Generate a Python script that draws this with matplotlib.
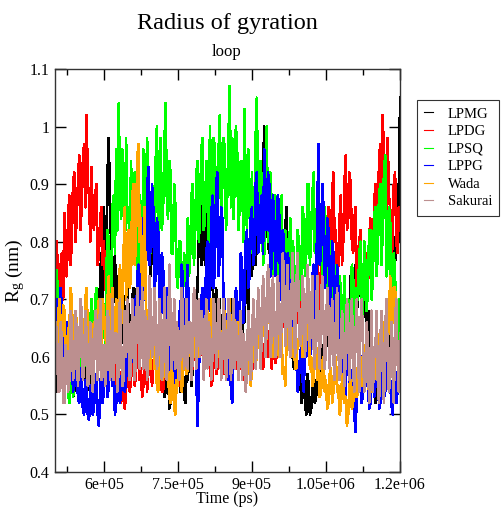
import numpy as np
import matplotlib
matplotlib.use("Agg")
import matplotlib.pyplot as plt

##### data: Rg (nm) of the loop, one value every 2500 ps from 5e5 to 1.2e6 ps
t_start = 500000
t_step = 2500

LPMG = [0.58, 0.54, 0.62, 0.59, 0.55, 0.63, 0.60, 0.55, 0.57, 0.61, 0.63, 0.58, 0.56, 0.62, 0.60, 0.53, 0.54, 0.60, 0.58, 0.64,
        0.62, 0.57, 0.56, 0.61, 0.60, 0.55, 0.53, 0.59, 0.58, 0.52, 0.55, 0.64, 0.62, 0.66, 0.70, 0.62, 0.66, 0.74, 0.78, 0.70,
        0.86, 0.80, 0.74, 0.92, 0.98, 0.84, 0.80, 0.68, 0.72, 0.78, 0.66, 0.70, 0.74, 0.66, 0.62, 0.72, 0.70, 0.60, 0.64, 0.72,
        0.68, 0.64, 0.62, 0.70, 0.72, 0.64, 0.66, 0.74, 0.78, 0.68, 0.70, 0.80, 0.84, 0.72, 0.76, 0.90, 0.88, 0.78, 0.74, 0.82,
        0.80, 0.72, 0.68, 0.60, 0.62, 0.58, 0.56, 0.62, 0.60, 0.53, 0.54, 0.59, 0.58, 0.51, 0.52, 0.58, 0.57, 0.53, 0.55, 0.61,
        0.60, 0.56, 0.54, 0.60, 0.58, 0.53, 0.52, 0.57, 0.56, 0.60, 0.62, 0.55, 0.58, 0.64, 0.66, 0.70, 0.72, 0.84, 0.80, 0.76,
        0.88, 0.80, 0.76, 0.86, 0.84, 0.74, 0.70, 0.80, 0.76, 0.66, 0.68, 0.72, 0.62, 0.66, 0.70, 0.60, 0.64, 0.68, 0.60, 0.64,
        0.66, 0.60, 0.62, 0.68, 0.70, 0.62, 0.64, 0.58, 0.60, 0.66, 0.68, 0.62, 0.62, 0.70, 0.66, 0.76, 0.72, 0.68, 0.78, 0.84,
        0.74, 0.80, 0.86, 0.76, 0.80, 0.90, 0.94, 0.82, 0.84, 0.92, 1.00, 0.90, 0.86, 0.80, 0.78, 0.88, 0.82, 0.76, 0.74, 0.84,
        0.80, 0.76, 0.72, 0.80, 0.84, 0.74, 0.76, 0.82, 0.86, 0.78, 0.72, 0.64, 0.66, 0.60, 0.58, 0.64, 0.62, 0.54, 0.55, 0.58,
        0.52, 0.56, 0.58, 0.52, 0.50, 0.57, 0.55, 0.50, 0.51, 0.55, 0.57, 0.52, 0.53, 0.58, 0.60, 0.54, 0.56, 0.61, 0.62, 0.58,
        0.66, 0.62, 0.70, 0.66, 0.64, 0.68, 0.72, 0.64, 0.68, 0.72, 0.62, 0.68, 0.66, 0.62, 0.70, 0.66, 0.64, 0.70, 0.68, 0.64,
        0.74, 0.70, 0.68, 0.72, 0.76, 0.68, 0.70, 0.75, 0.72, 0.68, 0.66, 0.72, 0.70, 0.66, 0.64, 0.68, 0.60, 0.64, 0.56, 0.60,
        0.52, 0.56, 0.58, 0.53, 0.55, 0.60, 0.62, 0.57, 0.58, 0.64, 0.66, 0.62, 0.72, 0.68, 0.80, 0.72, 0.76, 0.84, 0.90, 0.80, 1.05]

LPDG = [0.72, 0.78, 0.80, 0.66, 0.68, 0.76, 0.78, 0.70, 0.85, 0.76, 0.74, 0.84, 0.88, 0.76, 0.80, 0.90, 0.92, 0.80, 0.84, 0.90,
        0.95, 0.82, 0.86, 0.94, 0.97, 0.86, 1.02, 0.90, 0.88, 0.80, 0.93, 0.84, 0.82, 0.88, 0.90, 0.76, 0.78, 0.84, 0.86, 0.76,
        0.80, 0.74, 0.70, 0.78, 0.76, 0.66, 0.62, 0.70, 0.66, 0.58, 0.55, 0.62, 0.60, 0.54, 0.52, 0.58, 0.58, 0.51, 0.54, 0.62,
        0.60, 0.54, 0.56, 0.60, 0.62, 0.55, 0.57, 0.62, 0.64, 0.56, 0.58, 0.53, 0.55, 0.60, 0.61, 0.54, 0.57, 0.62, 0.60, 0.55,
        0.58, 0.61, 0.63, 0.57, 0.56, 0.62, 0.60, 0.54, 0.54, 0.58, 0.59, 0.64, 0.62, 0.56, 0.57, 0.62, 0.60, 0.54, 0.55, 0.60,
        0.58, 0.55, 0.62, 0.58, 0.57, 0.61, 0.64, 0.59, 0.60, 0.64, 0.66, 0.60, 0.58, 0.63, 0.62, 0.57, 0.56, 0.61, 0.60, 0.66,
        0.63, 0.59, 0.58, 0.62, 0.65, 0.60, 0.60, 0.55, 0.56, 0.62, 0.61, 0.57, 0.58, 0.63, 0.64, 0.58, 0.60, 0.64, 0.57, 0.61,
        0.62, 0.58, 0.59, 0.64, 0.66, 0.60, 0.61, 0.65, 0.58, 0.62, 0.63, 0.58, 0.60, 0.64, 0.56, 0.60, 0.62, 0.57, 0.58, 0.63,
        0.60, 0.58, 0.65, 0.62, 0.61, 0.66, 0.68, 0.62, 0.63, 0.58, 0.60, 0.65, 0.66, 0.60, 0.62, 0.67, 0.58, 0.62, 0.64, 0.59,
        0.60, 0.64, 0.66, 0.60, 0.62, 0.68, 0.70, 0.63, 0.64, 0.70, 0.68, 0.62, 0.62, 0.68, 0.66, 0.62, 0.72, 0.66, 0.66, 0.73,
        0.70, 0.65, 0.64, 0.70, 0.68, 0.63, 0.62, 0.69, 0.67, 0.74, 0.72, 0.66, 0.66, 0.76, 0.74, 0.68, 0.68, 0.84, 0.80, 0.72,
        0.74, 0.82, 0.86, 0.76, 0.78, 0.88, 0.92, 0.80, 0.82, 0.74, 0.76, 0.84, 0.88, 0.76, 0.80, 0.90, 0.95, 0.82, 0.84, 0.92,
        0.90, 0.80, 0.78, 0.84, 0.86, 0.72, 0.74, 0.80, 0.82, 0.68, 0.70, 0.76, 0.78, 0.68, 0.72, 0.80, 0.84, 0.74, 0.76, 0.86,
        0.90, 0.84, 0.82, 0.94, 0.97, 0.88, 1.02, 0.94, 0.92, 0.84, 0.98, 0.88, 0.86, 0.76, 0.80, 0.90, 0.92, 0.80, 0.78, 0.86, 0.82]

LPSQ = [0.66, 0.72, 0.75, 0.64, 0.60, 0.68, 0.70, 0.58, 0.55, 0.61, 0.62, 0.54, 0.52, 0.57, 0.58, 0.53, 0.55, 0.60, 0.60, 0.56,
        0.57, 0.61, 0.62, 0.56, 0.58, 0.64, 0.65, 0.58, 0.60, 0.66, 0.70, 0.62, 0.64, 0.70, 0.72, 0.64, 0.66, 0.58, 0.62, 0.66,
        0.68, 0.62, 0.74, 0.82, 0.80, 0.70, 0.72, 0.86, 0.88, 0.78, 0.96, 0.82, 1.04, 0.90, 0.84, 0.96, 0.90, 0.76, 0.98, 0.84,
        0.86, 0.74, 0.94, 0.84, 0.80, 0.92, 0.90, 0.74, 0.76, 0.88, 0.86, 0.72, 0.96, 0.84, 0.82, 0.98, 0.92, 0.80, 0.78, 0.90,
        0.88, 0.76, 0.94, 1.00, 0.80, 0.88, 0.98, 0.82, 0.86, 0.96, 1.04, 0.88, 0.84, 0.94, 0.92, 0.78, 0.78, 0.90, 0.86, 0.74,
        0.72, 0.80, 0.80, 0.68, 0.70, 0.78, 0.76, 0.70, 0.84, 0.74, 0.78, 0.88, 0.90, 0.76, 0.82, 0.92, 0.94, 0.80, 0.86, 0.96,
        0.98, 0.82, 0.84, 0.94, 0.92, 0.80, 1.00, 0.86, 0.88, 0.98, 0.96, 0.82, 0.86, 0.96, 1.02, 0.84, 0.90, 0.98, 0.96, 0.82,
        0.88, 0.98, 1.07, 0.86, 0.98, 0.84, 0.90, 1.00, 0.96, 0.82, 0.86, 0.94, 0.94, 0.80, 1.03, 0.88, 0.82, 0.96, 0.88, 0.78,
        0.92, 0.80, 0.84, 0.98, 1.05, 0.82, 0.80, 0.94, 0.90, 0.76, 0.78, 0.92, 1.00, 0.80, 0.82, 0.92, 0.86, 0.74, 0.76, 0.88,
        0.84, 0.72, 0.74, 0.86, 0.88, 0.70, 0.72, 0.82, 0.80, 0.70, 0.76, 0.84, 0.70, 0.80, 0.78, 0.68, 0.72, 0.82, 0.80, 0.70,
        0.74, 0.86, 0.84, 0.74, 0.78, 0.90, 0.90, 0.76, 0.82, 0.88, 0.92, 0.78, 0.80, 0.88, 0.93, 0.76, 0.84, 0.72, 0.76, 0.86,
        0.82, 0.70, 0.72, 0.80, 0.78, 0.64, 0.66, 0.76, 0.74, 0.62, 0.64, 0.74, 0.72, 0.64, 0.68, 0.74, 0.62, 0.70, 0.70, 0.64,
        0.66, 0.76, 0.74, 0.62, 0.62, 0.72, 0.70, 0.78, 0.80, 0.66, 0.68, 0.80, 0.76, 0.68, 0.72, 0.82, 0.82, 0.70, 0.74, 0.84,
        0.86, 0.74, 0.78, 0.88, 0.90, 0.76, 0.82, 0.92, 0.95, 0.74, 0.76, 0.86, 0.84, 0.66, 0.70, 0.78, 0.74, 0.64, 0.66, 0.70, 0.62]

LPPG = [0.64, 0.60, 0.70, 0.66, 0.62, 0.72, 0.68, 0.60, 0.60, 0.66, 0.66, 0.58, 0.58, 0.64, 0.62, 0.54, 0.55, 0.60, 0.60, 0.53,
        0.52, 0.58, 0.57, 0.51, 0.50, 0.56, 0.55, 0.50, 0.49, 0.55, 0.54, 0.50, 0.51, 0.57, 0.56, 0.50, 0.48, 0.54, 0.58, 0.52,
        0.54, 0.59, 0.60, 0.53, 0.55, 0.60, 0.62, 0.55, 0.57, 0.50, 0.52, 0.58, 0.58, 0.52, 0.54, 0.59, 0.60, 0.54, 0.56, 0.62,
        0.64, 0.56, 0.58, 0.66, 0.70, 0.60, 0.62, 0.74, 0.76, 0.66, 0.68, 0.82, 0.84, 0.70, 0.72, 0.88, 0.93, 0.76, 0.80, 0.90,
        0.86, 0.72, 0.74, 0.84, 0.82, 0.68, 0.66, 0.78, 0.76, 0.62, 0.62, 0.72, 0.70, 0.56, 0.58, 0.66, 0.64, 0.52, 0.54, 0.62,
        0.58, 0.68, 0.66, 0.76, 0.74, 0.60, 0.62, 0.72, 0.76, 0.64, 0.66, 0.58, 0.60, 0.72, 0.70, 0.56, 0.48, 0.58, 0.62, 0.70,
        0.72, 0.64, 0.66, 0.78, 0.80, 0.68, 0.70, 0.84, 0.88, 0.72, 0.76, 0.90, 0.92, 0.74, 0.78, 0.86, 0.84, 0.68, 0.70, 0.62,
        0.56, 0.66, 0.64, 0.54, 0.52, 0.60, 0.62, 0.72, 0.70, 0.62, 0.66, 0.78, 0.76, 0.66, 0.70, 0.80, 0.82, 0.72, 0.74, 0.84,
        0.86, 0.76, 0.78, 0.90, 0.92, 0.78, 0.80, 0.86, 0.88, 0.78, 0.96, 0.84, 0.82, 0.92, 0.90, 0.74, 0.76, 0.88, 0.84, 0.74,
        0.78, 0.88, 0.86, 0.70, 0.72, 0.82, 0.80, 0.66, 0.68, 0.78, 0.76, 0.62, 0.64, 0.72, 0.70, 0.58, 0.60, 0.54, 0.56, 0.60,
        0.62, 0.56, 0.54, 0.62, 0.60, 0.70, 0.68, 0.60, 0.62, 0.74, 0.76, 0.66, 0.70, 0.86, 0.97, 0.76, 0.78, 0.90, 0.86, 0.72,
        0.74, 0.84, 0.82, 0.68, 0.70, 0.80, 0.78, 0.64, 0.66, 0.76, 0.72, 0.60, 0.62, 0.56, 0.58, 0.52, 0.54, 0.62, 0.60, 0.54,
        0.52, 0.57, 0.58, 0.50, 0.47, 0.54, 0.55, 0.61, 0.60, 0.52, 0.54, 0.60, 0.62, 0.55, 0.56, 0.51, 0.52, 0.57, 0.58, 0.53,
        0.55, 0.61, 0.60, 0.51, 0.52, 0.59, 0.58, 0.53, 0.54, 0.63, 0.62, 0.55, 0.56, 0.52, 0.50, 0.56, 0.58, 0.52, 0.54, 0.62, 0.60]

Wada = [0.66, 0.62, 0.60, 0.67, 0.70, 0.63, 0.62, 0.69, 0.68, 0.60, 0.58, 0.65, 0.64, 0.72, 0.70, 0.62, 0.62, 0.68, 0.66, 0.61,
        0.60, 0.66, 0.68, 0.61, 0.62, 0.70, 0.72, 0.64, 0.64, 0.60, 0.58, 0.64, 0.66, 0.62, 0.60, 0.68, 0.70, 0.64, 0.62, 0.70,
        0.68, 0.64, 0.62, 0.70, 0.74, 0.64, 0.66, 0.72, 0.60, 0.66, 0.70, 0.64, 0.64, 0.76, 0.72, 0.66, 0.78, 0.86, 0.70, 0.78,
        0.82, 0.72, 0.74, 0.88, 0.90, 0.76, 0.80, 0.94, 0.97, 0.80, 0.84, 0.72, 0.76, 0.86, 0.70, 0.64, 0.64, 0.58, 0.58, 0.64,
        0.66, 0.58, 0.60, 0.55, 0.54, 0.60, 0.62, 0.56, 0.56, 0.63, 0.64, 0.56, 0.58, 0.53, 0.52, 0.58, 0.56, 0.51, 0.50, 0.56,
        0.55, 0.61, 0.60, 0.54, 0.56, 0.62, 0.64, 0.57, 0.58, 0.65, 0.62, 0.58, 0.66, 0.62, 0.60, 0.66, 0.68, 0.60, 0.62, 0.67,
        0.66, 0.61, 0.60, 0.66, 0.68, 0.62, 0.62, 0.70, 0.70, 0.63, 0.64, 0.60, 0.60, 0.67, 0.66, 0.60, 0.62, 0.68, 0.68, 0.62,
        0.64, 0.69, 0.70, 0.63, 0.62, 0.67, 0.66, 0.60, 0.60, 0.66, 0.64, 0.59, 0.58, 0.64, 0.62, 0.56, 0.56, 0.62, 0.60, 0.55,
        0.58, 0.63, 0.64, 0.59, 0.60, 0.66, 0.66, 0.60, 0.62, 0.67, 0.68, 0.62, 0.64, 0.69, 0.70, 0.63, 0.66, 0.60, 0.62, 0.67,
        0.66, 0.61, 0.60, 0.65, 0.64, 0.57, 0.58, 0.55, 0.62, 0.67, 0.66, 0.60, 0.60, 0.65, 0.64, 0.58, 0.58, 0.63, 0.62, 0.67,
        0.66, 0.60, 0.60, 0.67, 0.70, 0.63, 0.64, 0.58, 0.60, 0.55, 0.56, 0.61, 0.62, 0.56, 0.58, 0.53, 0.54, 0.59, 0.60, 0.54,
        0.56, 0.51, 0.52, 0.57, 0.58, 0.52, 0.54, 0.59, 0.60, 0.54, 0.55, 0.50, 0.51, 0.56, 0.57, 0.52, 0.53, 0.48, 0.50, 0.55,
        0.56, 0.51, 0.52, 0.57, 0.58, 0.53, 0.54, 0.59, 0.60, 0.55, 0.56, 0.61, 0.62, 0.56, 0.58, 0.53, 0.54, 0.59, 0.60, 0.56,
        0.58, 0.63, 0.64, 0.58, 0.60, 0.65, 0.66, 0.60, 0.62, 0.68, 0.70, 0.64, 0.74, 0.68, 0.66, 0.72, 0.72, 0.64, 0.62, 0.57, 0.58]

Sakurai = [0.58, 0.66, 0.64, 0.54, 0.54, 0.66, 0.62, 0.52, 0.52, 0.62, 0.60, 0.54, 0.56, 0.68, 0.66, 0.56, 0.58, 0.68, 0.64, 0.55,
           0.60, 0.70, 0.68, 0.56, 0.58, 0.68, 0.64, 0.55, 0.56, 0.66, 0.62, 0.54, 0.58, 0.68, 0.66, 0.56, 0.60, 0.70, 0.56, 0.62,
           0.62, 0.55, 0.58, 0.68, 0.66, 0.56, 0.60, 0.70, 0.56, 0.64, 0.64, 0.54, 0.58, 0.70, 0.62, 0.55, 0.56, 0.68, 0.60, 0.70,
           0.64, 0.56, 0.58, 0.70, 0.66, 0.56, 0.60, 0.72, 0.68, 0.58, 0.62, 0.72, 0.58, 0.68, 0.66, 0.56, 0.60, 0.74, 0.70, 0.60,
           0.62, 0.72, 0.68, 0.58, 0.60, 0.70, 0.66, 0.56, 0.58, 0.72, 0.64, 0.56, 0.60, 0.76, 0.68, 0.58, 0.62, 0.70, 0.58, 0.66,
           0.64, 0.56, 0.60, 0.72, 0.68, 0.58, 0.62, 0.70, 0.58, 0.66, 0.66, 0.56, 0.60, 0.72, 0.70, 0.58, 0.64, 0.70, 0.60, 0.68,
           0.66, 0.56, 0.62, 0.70, 0.58, 0.66, 0.64, 0.56, 0.60, 0.70, 0.68, 0.58, 0.62, 0.70, 0.66, 0.56, 0.60, 0.70, 0.64, 0.56,
           0.60, 0.70, 0.66, 0.56, 0.62, 0.70, 0.58, 0.66, 0.64, 0.56, 0.60, 0.68, 0.56, 0.64, 0.62, 0.54, 0.58, 0.68, 0.64, 0.56,
           0.60, 0.70, 0.66, 0.58, 0.62, 0.72, 0.68, 0.58, 0.64, 0.74, 0.70, 0.60, 0.66, 0.76, 0.72, 0.60, 0.64, 0.74, 0.68, 0.60,
           0.62, 0.74, 0.70, 0.60, 0.66, 0.78, 0.74, 0.62, 0.68, 0.76, 0.64, 0.60, 0.70, 0.78, 0.66, 0.60, 0.72, 0.78, 0.68, 0.62,
           0.64, 0.74, 0.70, 0.60, 0.66, 0.76, 0.72, 0.62, 0.68, 0.74, 0.62, 0.58, 0.68, 0.74, 0.64, 0.58, 0.70, 0.74, 0.66, 0.58,
           0.62, 0.72, 0.68, 0.58, 0.64, 0.70, 0.60, 0.56, 0.66, 0.72, 0.62, 0.56, 0.58, 0.68, 0.64, 0.55, 0.60, 0.70, 0.66, 0.56,
           0.62, 0.70, 0.58, 0.54, 0.64, 0.70, 0.60, 0.54, 0.66, 0.70, 0.62, 0.54, 0.56, 0.66, 0.62, 0.52, 0.58, 0.68, 0.54, 0.60,
           0.60, 0.68, 0.56, 0.52, 0.62, 0.68, 0.58, 0.52, 0.64, 0.70, 0.60, 0.54, 0.56, 0.66, 0.62, 0.52, 0.66, 0.70, 0.60, 0.54, 0.64]

names = ["LPMG", "LPDG", "LPSQ", "LPPG", "Wada", "Sakurai"]
series = [LPMG, LPDG, LPSQ, LPPG, Wada, Sakurai]
# grace colours: black, red, green, blue, orange, brown
colors = ["#000000", "#ff0000", "#00ff00", "#0000ff", "#ffa500", "#bc8f8f"]

x_ticks = [600000, 750000, 900000, 1050000, 1200000]
x_ticklabels = ["6e+05", "7.5e+05", "9e+05", "1.05e+06", "1.2e+06"]
y_ticks = [0.4, 0.5, 0.6, 0.7, 0.8, 0.9, 1.0, 1.1]
y_ticklabels = ["0.4", "0.5", "0.6", "0.7", "0.8", "0.9", "1", "1.1"]

plt.rcParams['font.family'] = ['Liberation Serif', 'DejaVu Serif']
plt.rcParams['mathtext.default'] = 'regular'

fig = plt.figure(figsize=(5.01, 5.07), dpi=100)
ax = fig.add_axes([54.5/501, 35/507, 345.5/501, 403/507])

for name, vals, c in zip(names, series, colors):
    time = t_start + t_step*np.arange(len(vals))
    ax.plot(time, vals, color=c, lw=1.2, label=name, antialiased=False)

ax.set_xlim(500000, 1200000)
ax.set_ylim(0.4, 1.1)
ax.set_xticks(x_ticks)
ax.set_xticklabels(x_ticklabels)
ax.set_xticks([525000, 675000, 825000, 975000, 1125000], minor=True)
ax.set_yticks(y_ticks)
ax.set_yticklabels(y_ticklabels)
ax.tick_params(which='both', direction='in', top=True, right=True,
               labelsize=11.5, width=1.0)
ax.tick_params(which='major', length=8)
ax.tick_params(which='minor', length=4.5)
for s in ax.spines.values():
    s.set_linewidth(1.0)
    s.set_color('#333333')

ax.set_xlabel("Time (ps)", fontsize=11.5, labelpad=-1.5)
ax.set_ylabel("R$_g$ (nm)", fontsize=14, labelpad=2)

fig.text(227/501, 1-23/507, "Radius of gyration", ha='center', va='center', fontsize=17.5)
fig.text(227/501, 1-52/507, "loop", ha='center', va='center', fontsize=12)

leg = ax.legend(loc='upper left', bbox_to_anchor=(417/501, 1-100/507),
                bbox_transform=fig.transFigure, borderaxespad=0,
                fontsize=10.5, frameon=True, fancybox=False, edgecolor='black',
                handlelength=0.6, handletextpad=1.0, labelspacing=0.3,
                borderpad=0.5)
leg.get_frame().set_linewidth(0.8)
for l in leg.get_lines():
    l.set_linewidth(0.8)
    l.set_antialiased(True)

plt.savefig("out.png", dpi=100)
